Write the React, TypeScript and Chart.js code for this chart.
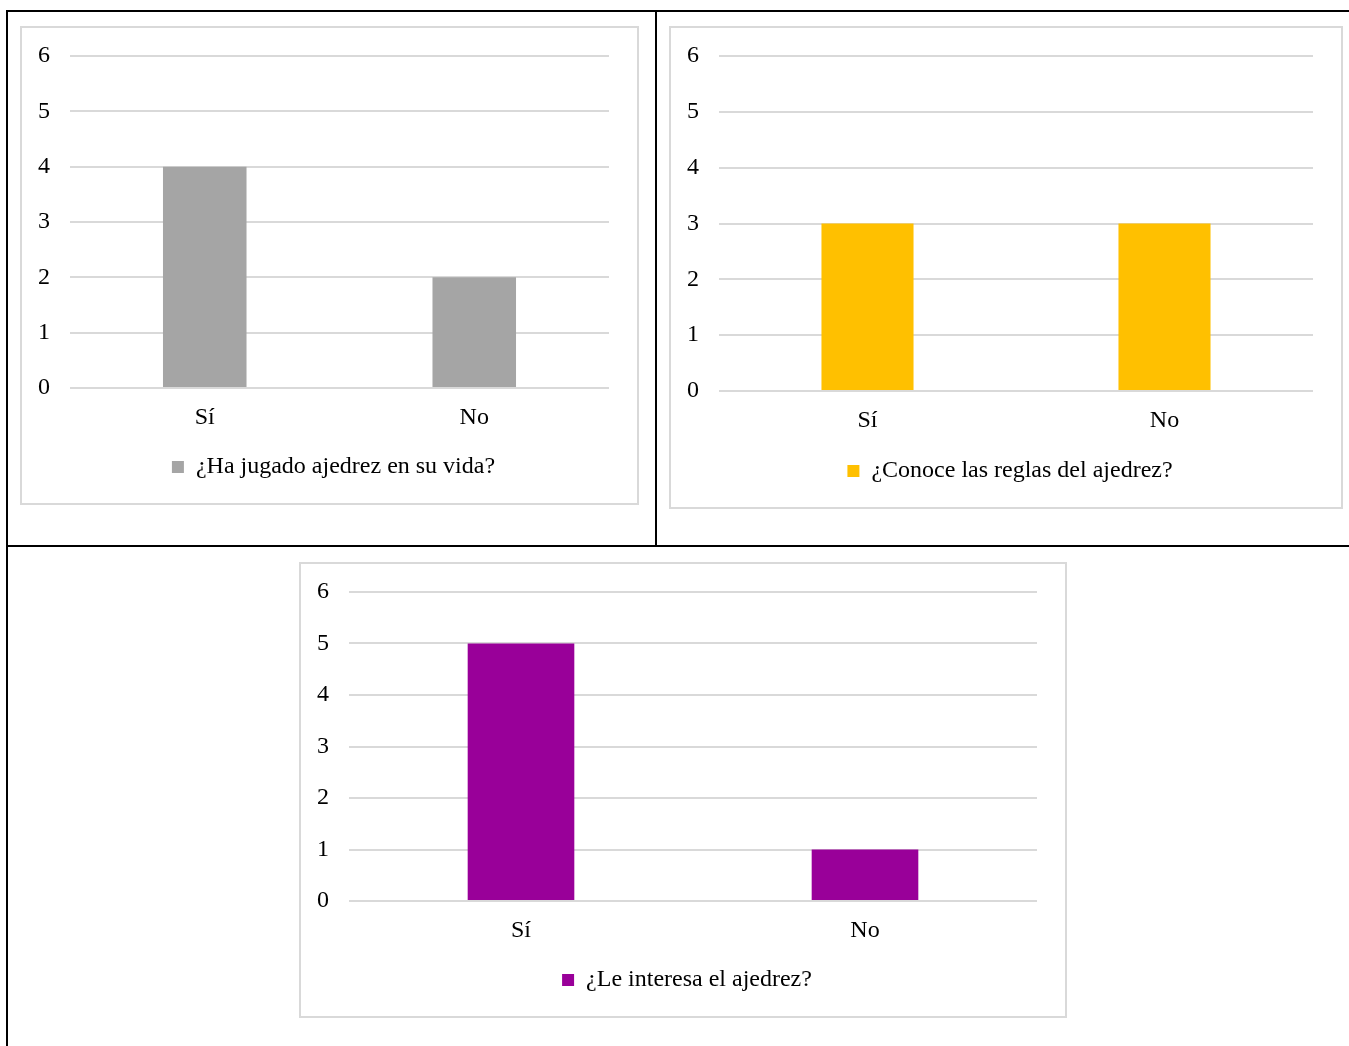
import React, { useEffect, useRef } from "react";
import { Chart, registerables } from "chart.js";

Chart.register(...registerables);

// Survey answers (number of respondents)
const categories = ["Sí", "No"];
const playedValues = [4, 2];
const rulesValues = [3, 3];
const interestValues = [5, 1];

const playedLabel = "¿Ha jugado ajedrez en su vida?";
const rulesLabel = "¿Conoce las reglas del ajedrez?";
const interestLabel = "¿Le interesa el ajedrez?";

const playedColor = "#a5a5a5";
const rulesColor = "#ffc000";
const interestColor = "#990099";

const yMin = 0;
const yMax = 6;
const yStep = 1;

const FONT_FAMILY = "'Liberation Serif', 'Times New Roman', serif";
const GRID_COLOR = "#d9d9d9";

type Box = { left: number; top: number; width: number; height: number };

function BarPanel(props: {
  label: string;
  values: number[];
  color: string;
  box: Box;
  axisHeight: number;
}) {
  const { label, values, color, box, axisHeight } = props;
  const ref = useRef<HTMLCanvasElement | null>(null);
  const innerW = box.width - 4;
  const innerH = box.height - 4;

  useEffect(() => {
    if (!ref.current) return;
    const font = { family: FONT_FAMILY, size: 24 };
    const chart = new Chart(ref.current, {
      type: "bar",
      data: {
        labels: categories,
        datasets: [
          {
            label,
            data: values,
            backgroundColor: color,
            borderWidth: 0,
            barPercentage: 0.31,
            categoryPercentage: 1,
            yAxisID: "y",
          },
        ],
      },
      options: {
        responsive: false,
        maintainAspectRatio: false,
        animation: false,
        devicePixelRatio: 1,
        layout: { padding: { left: 8, top: 28, right: 0, bottom: 14 } },
        plugins: {
          legend: {
            position: "bottom",
            labels: {
              boxWidth: 12,
              boxHeight: 12,
              padding: 10,
              color: "#000",
              font,
            },
          },
          tooltip: { enabled: false },
        },
        scales: {
          x: {
            grid: { display: false },
            border: { display: false },
            ticks: { color: "#000", font, padding: 7 },
            afterFit: (s: any) => {
              s.height = axisHeight;
            },
          },
          y: {
            position: "left",
            min: yMin,
            max: yMax,
            ticks: { stepSize: yStep, color: "#000", font, padding: 20 },
            grid: { color: GRID_COLOR, lineWidth: 2, drawTicks: false },
            border: { display: false },
            afterFit: (s: any) => {
              s.width = 40;
              s.paddingTop = 0;
              s.paddingBottom = 0;
            },
          },
          // empty right-hand gutter so the plot ends short of the frame
          gutter: {
            position: "right",
            min: yMin,
            max: yMax,
            grid: { display: false },
            border: { display: false },
            ticks: { display: false },
            afterFit: (s: any) => {
              s.width = 28;
              s.paddingTop = 0;
              s.paddingBottom = 0;
            },
          },
        },
      },
    } as any);
    return () => chart.destroy();
  }, [label, values, color, axisHeight]);

  return (
    <div
      style={{
        position: "absolute",
        left: box.left,
        top: box.top,
        width: box.width,
        height: box.height,
        boxSizing: "border-box",
        border: `2px solid ${GRID_COLOR}`,
        background: "#fff",
      }}
    >
      <canvas
        ref={ref}
        width={innerW}
        height={innerH}
        style={{ display: "block", width: innerW, height: innerH }}
      />
    </div>
  );
}

function Rule(props: { left: number; top: number; width: number; height: number }) {
  return (
    <div
      style={{
        position: "absolute",
        left: props.left,
        top: props.top,
        width: props.width,
        height: props.height,
        background: "#000",
      }}
    />
  );
}

export default function App() {
  return (
    <div
      style={{
        position: "absolute",
        left: 0,
        top: 0,
        width: 1349,
        height: 1046,
        overflow: "hidden",
        background: "#fff",
      }}
    >
      {/* table borders */}
      <Rule left={6} top={10} width={1343} height={2} />
      <Rule left={6} top={10} width={2} height={1036} />
      <Rule left={655} top={10} width={2} height={537} />
      <Rule left={6} top={545} width={1343} height={2} />

      <BarPanel
        label={playedLabel}
        values={playedValues}
        color={playedColor}
        box={{ left: 20, top: 26, width: 619, height: 479 }}
        axisHeight={57}
      />
      <BarPanel
        label={rulesLabel}
        values={rulesValues}
        color={rulesColor}
        box={{ left: 669, top: 26, width: 674, height: 483 }}
        axisHeight={58}
      />
      <BarPanel
        label={interestLabel}
        values={interestValues}
        color={interestColor}
        box={{ left: 299, top: 562, width: 768, height: 456 }}
        axisHeight={57}
      />
    </div>
  );
}
